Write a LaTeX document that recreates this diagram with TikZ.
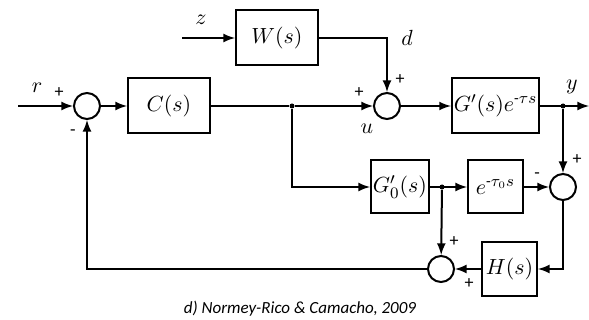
\documentclass[tikz,border=0pt]{standalone}
\usepackage{amsmath}
\usepackage{fontspec}
\setmainfont{Carlito}
\usetikzlibrary{arrows, positioning}

\begin{document}
\begin{tikzpicture}[x=0.5pt, y=-0.5pt, font=\fontsize{11}{13}\selectfont]
    \tikzstyle{block} = [rectangle, draw, line width=1pt, minimum height=27.5pt, inner sep=1pt]
    \tikzstyle{sum} = [circle, draw, line width=1pt, minimum size=13pt, inner sep=0pt]
    \tikzstyle{line} = [draw, -latex, line width=1pt]
    \tikzstyle{wire} = [draw, line width=1pt]
    \tikzstyle{sign} = [font=\fontsize{9}{10}\selectfont]
    \tikzstyle{dot} = [circle, fill, inner sep=0pt, minimum size=2.5pt]

    \useasboundingbox (0,0) rectangle (589,320);

    % main loop
    \coordinate (rin) at (18,106);
    \node [sum] (sum1) at (87,106) {};
    \node [block, minimum width=41pt] (ctrl) at (169,106) {$C(s)$};
    \node [sum] (sum2) at (387,106) {};
    \node [block, minimum width=41.5pt] (plant) at (495.5,106) {$G'(s)e^{\text{-}\tau s}$};
    \coordinate (yout) at (589,106);

    % disturbance
    \coordinate (zin) at (182,38);
    \node [block, minimum width=41pt] (dist) at (277,38) {$W(s)$};

    % predictor
    \node [block, minimum width=28pt, minimum height=26.5pt] (model) at (400,187) {$G_0'(s)$};
    \node [block, minimum width=27.5pt, minimum height=26.5pt] (delay) at (495.5,187) {$e^{\text{-}\tau_0 s}$};
    \node [sum] (sum3) at (563,187) {};
    \node [block, minimum width=27.5pt, minimum height=27pt] (filter) at (509.5,269) {$H(s)$};
    \node [sum] (sum4) at (441,269) {};

    % branch points
    \node [dot] (ju) at (292,106) {};
    \node [dot] (jy) at (563,106) {};
    \node [dot] (jm) at (442,187) {};

    \path [line] (rin) -- (sum1);
    \path [line] (sum1) -- (ctrl);
    \path [wire] (ctrl) -- (ju);
    \path [line] (ju) -- (sum2);
    \path [line] (sum2) -- (plant);
    \path [line] (plant) -- (yout);
    \path [line] (zin) -- (dist);
    \path [line] (dist.east) -| (sum2.north);
    \path [line] (ju) |- (model.west);
    \path [line] (model) -- (delay);
    \path [line] (delay) -- (sum3);
    \path [line] (jy) -- (sum3);
    \path [line] (sum3.south) |- (filter.east);
    \path [line] (filter) -- (sum4);
    \path [line] (jm) -- (sum4);
    \path [line] (sum4.west) -| (sum1.south);

    % labels
    \node at (37,88) {$r$};
    \node at (201,20) {$z$};
    \node at (407,38) {$d$};
    \node at (367,129) {$u$};
    \node at (572,87) {$y$};
    \node [sign] at (59,93) {+};
    \node [sign] at (73,133) {-};
    \node [sign] at (400,80) {+};
    \node [sign] at (359,93) {+};
    \node [sign] at (577,160) {+};
    \node [sign] at (537,176) {-};
    \node [sign] at (454,242) {+};
    \node [sign] at (469,284) {+};

    \node [font=\fontsize{8.5}{10}\selectfont\itshape] (cap) at (300,309) {d) Normey-Rico \& Camacho, 2009};
\end{tikzpicture}
\end{document}
